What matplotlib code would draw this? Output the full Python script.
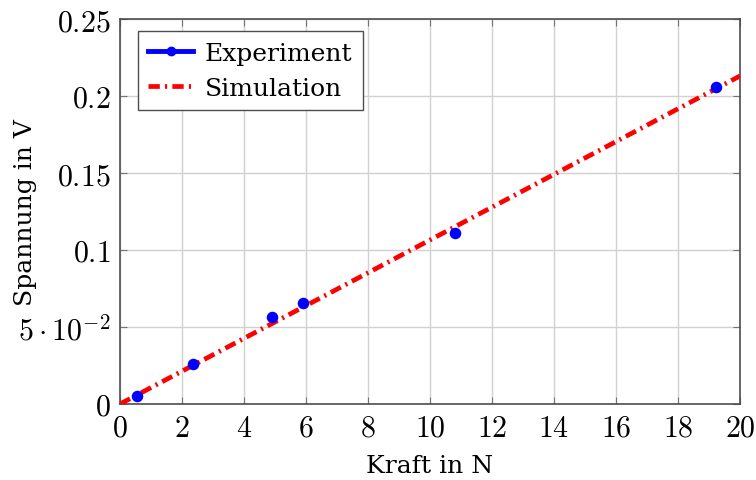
import numpy as np
import matplotlib.pyplot as plt
from matplotlib.lines import Line2D

plt.rcParams['font.family'] = 'DejaVu Serif'
plt.rcParams['mathtext.fontset'] = 'cm'

# Messwerte
kraft_exp = [0.54, 2.35, 4.89, 5.91, 10.8, 19.23]
spannung_exp = [0.0051, 0.026, 0.0567, 0.0656, 0.111, 0.206]

# Simulation (linear)
kraft_sim = [0, 20]
spannung_sim = [0, 0.213]

xticks = [0, 2, 4, 6, 8, 10, 12, 14, 16, 18, 20]
yticks = [0, 0.05, 0.1, 0.15, 0.2, 0.25]
ytick_labels = ['0', r'5\cdot10^{-2}', '0.1', '0.15', '0.2', '0.25']

fs = 18        # Textgröße (Achsentitel, Legende)
fs_tick = 21.5 # Tick-Beschriftung (Mathe-Schrift)
dd = [2.4, 1.1, 0.45, 1.1]  # strichpunktiert

fig = plt.figure(figsize=[7.56, 4.81], dpi=100)
ax = fig.add_axes([120/756, 76/481, 620/756, 385/481])

ax.plot(kraft_sim, spannung_sim, color='red', lw=3.4,
        dashes=dd, zorder=3)
ax.plot(kraft_exp, spannung_exp, ls='none', marker='o', ms=7.3,
        color='blue', zorder=4)

ax.set_xlim(0, 20)
ax.set_ylim(0, 0.25)
ax.set_xticks(xticks)
ax.set_xticklabels([f'${t}$' for t in xticks])
ax.set_yticks(yticks)
ax.set_yticklabels([f'${t}$' for t in ytick_labels])
ax.tick_params(direction='in', top=True, right=True, labelsize=fs_tick,
               length=5, width=0.8, color='0.45', pad=7)
ax.grid(True, color='0.82', lw=1)
ax.set_axisbelow(True)
for s in ax.spines.values():
    s.set_linewidth(1.2)
    s.set_color('0.3')

ax.set_xlabel('Kraft in N', fontsize=fs, va='center')
ax.xaxis.set_label_coords(0.5, -0.161)
ax.set_ylabel('Spannung in V', fontsize=fs, va='center')
ax.yaxis.set_label_coords(-0.152, 0.5)

handles = [
    Line2D([], [], color='blue', lw=3.5, marker='o', ms=6),
    Line2D([], [], color='red', lw=3.4, dashes=dd),
]
leg = ax.legend(handles, ['Experiment', 'Simulation'], loc='upper left',
                fontsize=fs, fancybox=False, edgecolor='0.3',
                framealpha=1, handlelength=1.8, borderpad=0.42,
                labelspacing=0.47, handletextpad=0.45, borderaxespad=0,
                bbox_to_anchor=(0.029, 0.968))
leg.get_frame().set_linewidth(1.0)

fig.savefig('out.png', dpi=100)
